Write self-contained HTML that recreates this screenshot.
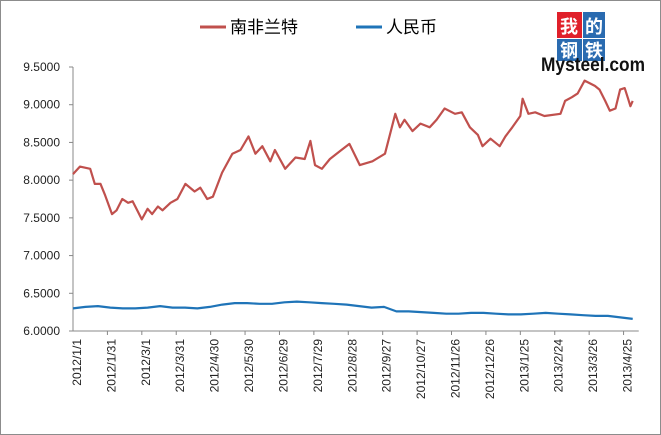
<!DOCTYPE html>
<html><head><meta charset="utf-8"><style>
body{margin:0;background:#fff}
svg{display:block}
text{font-family:"Liberation Sans","Noto Sans CJK SC",sans-serif}
</style></head><body>
<svg id="chart" width="661" height="435">
<rect x="0.5" y="0.5" width="660" height="434" fill="#fff" stroke="#8c8c8c"/>
<g>
<g><line x1="200" y1="27" x2="226" y2="27" stroke="#c0504d" stroke-width="3"/><text x="230" y="33" font-size="17">南非兰特</text></g>
<g><line x1="356" y1="27" x2="382" y2="27" stroke="#1f74b8" stroke-width="3"/><text x="386" y="33" font-size="17">人民币</text></g>
</g>
<g>
<rect x="557" y="12" width="25" height="26" fill="#e0202a"/><rect x="583" y="12" width="22" height="26" fill="#2a6bb0"/>
<rect x="557" y="39" width="25" height="22" fill="#2a6bb0"/><rect x="583" y="39" width="22" height="22" fill="#2a6bb0"/>
<text x="569" y="33" font-size="18" fill="#fff" text-anchor="middle" font-weight="bold">我</text>
<text x="594" y="33" font-size="18" fill="#fff" text-anchor="middle" font-weight="bold">的</text>
<text x="569" y="57" font-size="18" fill="#fff" text-anchor="middle" font-weight="bold">钢</text>
<text x="594" y="57" font-size="18" fill="#fff" text-anchor="middle" font-weight="bold">铁</text>
<text x="541" y="71" font-size="19" font-weight="bold" fill="#111" textLength="104" lengthAdjust="spacingAndGlyphs">Mysteel.com</text>
</g>
<g id="axes"></g>
<g id="series"></g>
</svg>
<script>
const yTicks=[6.0,6.5,7.0,7.5,8.0,8.5,9.0,9.5];
const xTickLabels=["2012/1/1","2012/1/31","2012/3/1","2012/3/31","2012/4/30","2012/5/30","2012/6/29","2012/7/29","2012/8/28","2012/9/27","2012/10/27","2012/11/26","2012/12/26","2013/1/25","2013/2/24","2013/3/26","2013/4/25"];
const totalDays=488;
const zarDays=[0,6,15,19,24,28,34,38,43,48,52,56,60,65,69,74,78,85,91,98,106,111,117,122,130,139,146,153,159,165,172,176,185,194,202,207,211,217,224,234,241,250,261,272,281,285,289,296,303,311,317,324,333,339,346,353,357,364,372,377,383,390,392,397,403,411,425,429,435,440,446,455,459,464,468,473,477,481,484,486,488];
const zar=[8.08,8.18,8.15,7.95,7.95,7.80,7.55,7.60,7.75,7.70,7.72,7.60,7.48,7.62,7.55,7.65,7.60,7.70,7.75,7.95,7.85,7.90,7.75,7.78,8.10,8.35,8.40,8.58,8.35,8.45,8.25,8.40,8.15,8.30,8.28,8.52,8.20,8.15,8.28,8.40,8.48,8.20,8.25,8.35,8.88,8.70,8.80,8.65,8.75,8.70,8.80,8.95,8.88,8.90,8.70,8.60,8.45,8.55,8.45,8.58,8.70,8.85,9.08,8.88,8.90,8.85,8.88,9.05,9.10,9.15,9.32,9.25,9.20,9.05,8.92,8.95,9.20,9.22,9.08,8.98,9.05];
const cny=[6.30,6.32,6.33,6.31,6.30,6.30,6.31,6.33,6.31,6.31,6.30,6.32,6.35,6.37,6.37,6.36,6.36,6.38,6.39,6.38,6.37,6.36,6.35,6.33,6.31,6.32,6.26,6.26,6.25,6.24,6.23,6.23,6.24,6.24,6.23,6.22,6.22,6.23,6.24,6.23,6.22,6.21,6.20,6.20,6.18,6.16];
const x0=73,pxPerDay=1.147,yTop=67,yBot=331,vMin=6.0,vMax=9.5;
const X=d=>x0+d*pxPerDay;
const Y=v=>yBot-(v-vMin)/(vMax-vMin)*(yBot-yTop);
const NS="http://www.w3.org/2000/svg";
const axes=document.getElementById('axes'),series=document.getElementById('series');
function mk(tag,attrs,parent){const e=document.createElementNS(NS,tag);for(const k in attrs)e.setAttribute(k,attrs[k]);parent.appendChild(e);return e;}
const ya=mk('line',{x1:x0,y1:yTop,x2:x0,y2:yBot,stroke:'#888'},axes);


const xa=mk('line',{x1:x0,y1:yBot,x2:X(totalDays)+6,y2:yBot,stroke:'#888'},axes);


yTicks.forEach(v=>{
 mk('line',{x1:x0-4,y1:Y(v),x2:x0,y2:Y(v),stroke:'#888'},axes);
 const t=mk('text',{x:x0-13,y:Y(v)+4,'font-size':12,'text-anchor':'end',fill:'#222'},axes);
 t.textContent=v.toFixed(4);
 
 
});
xTickLabels.forEach((lab,i)=>{
 const x=X(i*30);
 if(i>0)mk('line',{x1:x,y1:yBot,x2:x,y2:yBot+4,stroke:'#888'},axes);
 const t=mk('text',{x:0,y:0,'font-size':12,'text-anchor':'end',fill:'#222',transform:`translate(${x+8},${yBot+8}) rotate(-90)`},axes);
 t.textContent=lab;
 
 
});
function line(arr,days,color,name){
 const pts=arr.map((v,i)=>X(days?days[i]:i*totalDays/(arr.length-1)).toFixed(1)+','+Y(v).toFixed(1)).join(' ');
 const p=mk('polyline',{points:pts,fill:'none',stroke:color,'stroke-width':2.2,'stroke-linejoin':'round'},series);
 
 
}
line(zar,zarDays,'#c0504d','zar-line');
line(cny,null,'#1f74b8','cny-line');
</script>
</body></html>
